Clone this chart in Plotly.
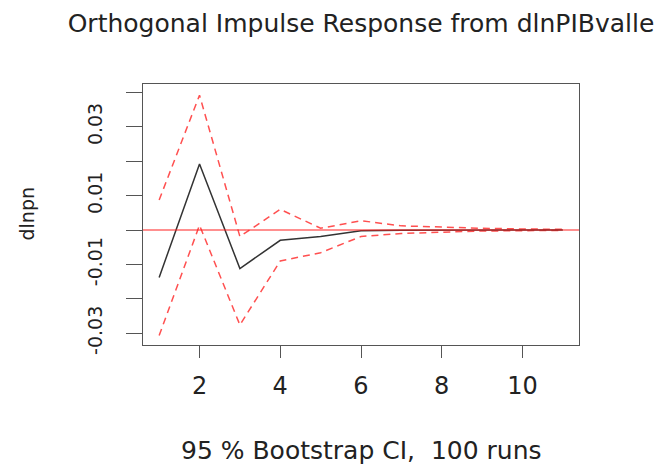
import plotly.graph_objects as go

# ---- data ----
steps = list(range(1, 12))
irf = [-0.0138, 0.0192, -0.0112, -0.0030, -0.0019, -0.0002, -0.0001, 0.0, 0.0, 0.0, 0.0]
upper = [0.0087, 0.0392, -0.0019, 0.0060, 0.0005, 0.0027, 0.0012, 0.0008, 0.0005, 0.0003, 0.0002]
lower = [-0.0307, 0.0014, -0.0276, -0.0090, -0.0066, -0.0019, -0.0010, -0.0006, -0.0003, -0.0002, -0.0001]
x_ticks = [2, 4, 6, 8, 10]
y_ticks = [-0.03, -0.02, -0.01, 0.0, 0.01, 0.02, 0.03, 0.04]
y_tick_labels = ["-0.03", "", "-0.01", "", "0.01", "", "0.03", ""]
title_text = "Orthogonal Impulse Response from dlnPIBvalle"
x_title = "95 % Bootstrap CI, \u00a0100 runs"
y_title = "dlnpn"

FONT = "DejaVu Sans"
AXC = "#555555"

fig = go.Figure()
fig.add_trace(go.Scatter(x=steps, y=upper, mode="lines",
                         line=dict(color="#ff5050", width=1.5, dash="7px,5px"),
                         showlegend=False))
fig.add_trace(go.Scatter(x=steps, y=lower, mode="lines",
                         line=dict(color="#ff5050", width=1.5, dash="7px,5px"),
                         showlegend=False))
fig.add_trace(go.Scatter(x=steps, y=irf, mode="lines",
                         line=dict(color="#333333", width=1.5),
                         showlegend=False))

fig.add_shape(type="line", xref="paper", x0=0, x1=1, yref="y", y0=0, y1=0,
              line=dict(color="#ff2020", width=1.2), layer="above")

fig.update_layout(
    width=666, height=465, autosize=False,
    margin=dict(l=143, r=87, t=84, b=120, pad=0),
    paper_bgcolor="white", plot_bgcolor="white",
    font=dict(family=FONT, color="#222222"),
    title=dict(text=title_text, x=0.5, xref="paper", xanchor="center",
               y=1 - 23 / 465, yref="container", yanchor="middle",
               font=dict(family=FONT, size=25, color="#222222")),
)

fig.update_xaxes(range=[0.6, 11.4], tickvals=x_ticks, ticktext=[str(v) for v in x_ticks],
                 ticks="outside", ticklen=12, tickwidth=1.2, tickcolor=AXC,
                 showline=True, linecolor=AXC, linewidth=1.2, mirror=True,
                 showgrid=False, zeroline=False,
                 tickfont=dict(family=FONT, size=24, color="#222222"),
                 ticklabelstandoff=7)
fig.update_yaxes(range=[-0.03343, 0.04244], tickvals=y_ticks, ticktext=y_tick_labels,
                 ticks="outside", ticklen=16, tickwidth=1.2, tickcolor=AXC,
                 showline=True, linecolor=AXC, linewidth=1.2, mirror=True,
                 showgrid=False, zeroline=False, tickangle=-90,
                 tickfont=dict(family=FONT, size=19, color="#222222"),
                 ticklabelstandoff=16)

fig.add_annotation(text=x_title, xref="paper", yref="paper", x=0.5, y=(345 - 451) / 261,
                   xanchor="center", yanchor="middle", showarrow=False,
                   font=dict(family=FONT, size=25, color="#222222"))
fig.add_annotation(text=y_title, xref="paper", yref="paper", x=(26 - 143) / 436, y=0.5,
                   xanchor="center", yanchor="middle", textangle=-90, showarrow=False,
                   font=dict(family=FONT, size=19, color="#222222"))

fig.write_html("out.html")
